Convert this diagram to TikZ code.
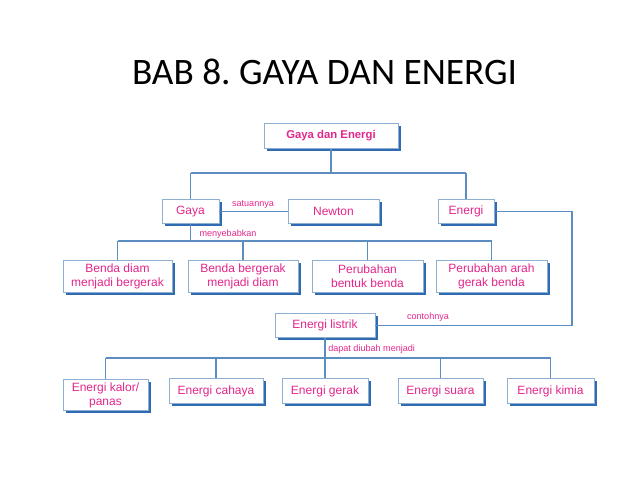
\documentclass[tikz,border=0pt]{standalone}
\usepackage{fontspec}
\setmainfont{Liberation Sans}
\newfontfamily\titlefont{Carlito}
\usetikzlibrary{shadows}
\frenchspacing
\definecolor{txtpink}{HTML}{E3268C}
\definecolor{boxline}{HTML}{8DB0D2}
\definecolor{shadowblue}{HTML}{2F6BB2}
\definecolor{linkblue}{HTML}{5B8DC0}
\tikzset{
  cbox/.style={draw=boxline, line width=0.6pt, fill=white, text=txtpink,
    font=\fontsize{9}{10.5}\selectfont, align=center, inner sep=1pt,
    minimum height=18.75pt, anchor=north,
    drop shadow={shadow xshift=2.2pt, shadow yshift=-2.2pt, fill=shadowblue, opacity=1}},
  link/.style={draw=linkblue, line width=0.8pt},
  lbl/.style={text=txtpink, font=\fontsize{6.8}{8}\selectfont, inner sep=0pt}
}
\begin{document}
\begin{tikzpicture}[x=0.75pt,y=-0.75pt]
\useasboundingbox (0,0) rectangle (638,479);
\node[font=\titlefont\fontsize{28}{32}\selectfont, anchor=base] (title) at (324.5,84) {BAB 8. GAYA DAN ENERGI};

% level 1
\node[cbox, minimum width=100.5pt, font=\bfseries\fontsize{8.5}{10}\selectfont] (root) at (331,123) {Gaya dan Energi};
% level 2
\node[cbox, minimum width=42.75pt, minimum height=18pt] (gaya) at (190.5,199) {Gaya};
\node[cbox, minimum width=68.25pt, minimum height=18pt] (newton) at (333.5,199) {Newton};
\node[cbox, minimum width=42pt, minimum height=18pt] (energi) at (466,199) {Energi};
% level 3
\node[cbox, minimum width=81.75pt, minimum height=24pt] (b1) at (117.5,260) {Benda diam\\menjadi bergerak};
\node[cbox, minimum width=82.5pt, minimum height=24pt] (b2) at (243,260) {Benda bergerak\\menjadi diam};
\node[cbox, minimum width=83.25pt, minimum height=24pt] (b3) at (367.5,260) {Perubahan\\bentuk benda};
\node[cbox, minimum width=83.25pt, minimum height=24pt] (b4) at (491.5,260) {Perubahan arah\\gerak benda};
% energi listrik
\node[cbox, minimum width=75pt, minimum height=18pt] (listrik) at (325,313) {Energi listrik};
% level 4
\node[cbox, minimum width=63.75pt, minimum height=23.25pt] (c1) at (105.5,379) {Energi kalor/\\panas};
\node[cbox, minimum width=70.5pt] (c2) at (216,378) {Energi cahaya};
\node[cbox, minimum width=64.5pt] (c3) at (325,378) {Energi gerak};
\node[cbox, minimum width=63.75pt] (c4) at (440.5,378) {Energi suara};
\node[cbox, minimum width=65.25pt] (c5) at (550.5,378) {Energi kimia};

% bus coordinates
\coordinate (bus1) at (0,173);
\coordinate (bus2) at (0,241);
\coordinate (bus3) at (0,358);
\coordinate (rcol) at (572,0);

% connectors level 1-2
\draw[link] (root.south) -- (root.south |- bus1);
\draw[link] (gaya.north |- bus1) -- (energi.north |- bus1);
\draw[link] (gaya.north |- bus1) -- (gaya.north);
\draw[link] (energi.north |- bus1) -- (energi.north);
\draw[link] (gaya.east) -- (newton.west);
\node[lbl] (satu) at (253,205) {satuannya};

% gaya to level 3
\draw[link] (gaya.south) -- (gaya.south |- bus2);
\draw[link] (b1.north |- bus2) -- (b4.north |- bus2);
\foreach \b in {b1,b2,b3,b4}{
  \draw[link] (\b.north |- bus2) -- (\b.north);
}
\node[lbl] (menye) at (228,234.5) {menyebabkan};

% energi to listrik
\draw[link] (energi.east) -- (energi.east -| rcol) -- (rcol |- listrik.east) -- (listrik.east);
\node[lbl] (conto) at (428,317) {contohnya};

% listrik to level 4
\draw[link] (listrik.south) -- (listrik.south |- bus3);
\draw[link] (c1.north |- bus3) -- (c5.north |- bus3);
\foreach \c in {c1,c2,c3,c4,c5}{
  \draw[link] (\c.north |- bus3) -- (\c.north);
}
\node[lbl, anchor=west] (dapat) at (328,349.5) {dapat diubah menjadi};
\end{tikzpicture}
\end{document}
